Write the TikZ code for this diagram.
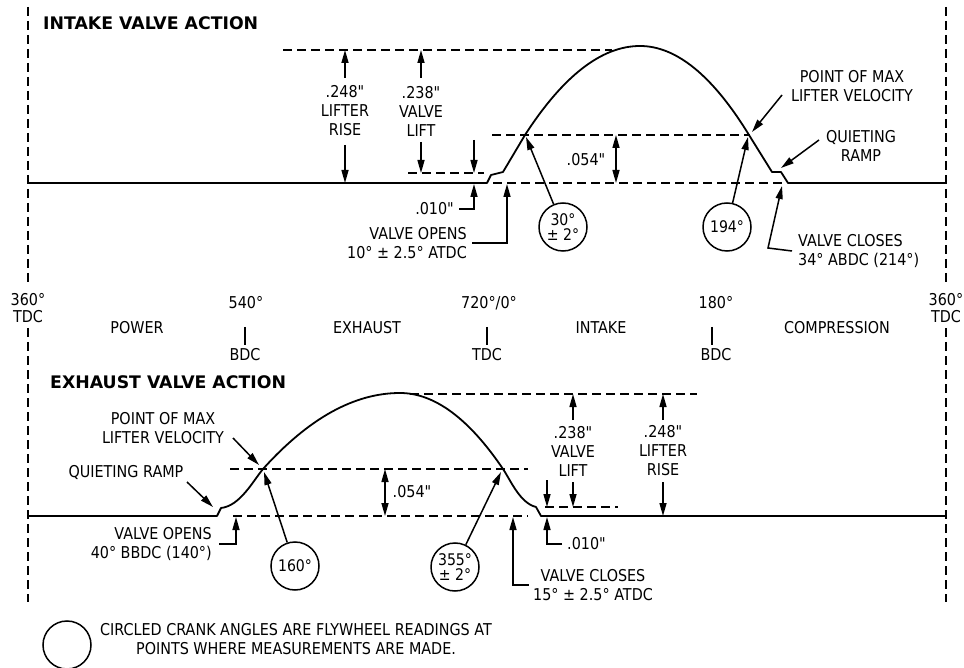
\documentclass[tikz,border=0pt]{standalone}
\usepackage{fontspec}
\setmainfont{DejaVu Sans}[FakeStretch=0.88, Ligatures=TeXOff]
\newfontfamily\ttlfont{DejaVu Sans}[Ligatures=TeXOff]
\usetikzlibrary{arrows.meta}
\begin{document}
\begin{tikzpicture}[x=1pt,y=-1pt,
  every node/.style={inner sep=0pt, font=\fontsize{16.3pt}{19pt}\selectfont},
  curve/.style={line width=1.8pt, line join=round},
  dsh/.style={line width=1.5pt, dash pattern=on 9pt off 5pt},
  arr/.style={line width=1.5pt, -{Triangle[length=13pt,width=7pt]}},
  darr/.style={line width=1.5pt, {Triangle[length=13pt,width=7pt]}-{Triangle[length=13pt,width=7pt]}},
  bar/.style={line width=1.5pt},
  lbl/.style={align=center},
  one/.style={text height=11.8pt, text depth=0pt},
  ttl/.style={font=\ttlfont\fontsize{17.3pt}{20pt}\selectfont\bfseries, anchor=west, text height=12.8pt, text depth=0pt},
  circ/.style={circle, draw, line width=1.5pt, minimum size=48pt, inner sep=0pt, align=center,
    font=\fontsize{16pt}{15pt}\selectfont}
]
\useasboundingbox (0,0) rectangle (964,668);
\fill[white] (0,0) rectangle (964,668);

% ---------- frame lines ----------
\coordinate (LA) at (28,7);   \coordinate (LB) at (28,285);
\coordinate (LC) at (28,328); \coordinate (LD) at (28,602);
\coordinate (RA) at (946,7);  \coordinate (RB) at (946,285);
\coordinate (RC) at (946,328);\coordinate (RD) at (946,602);
\draw[dsh] (LA) -- (LB);  \draw[dsh] (LC) -- (LD);
\draw[dsh] (RA) -- (RB);  \draw[dsh] (RC) -- (RD);

% ================= INTAKE =================
\node[ttl] (ititle) at (43,23) {INTAKE VALVE ACTION};

\draw[curve] (28,183) -- (487,183) -- (491,175) -- (503,172) -- (525,135)
  .. controls (563.3,75.7) and (601.7,46) .. (640,46)
  .. controls (676.3,46) and (712.7,75.7) .. (749,135)
  -- (772,172) -- (781,172) -- (788,183) -- (946,183);

\draw[dsh] (283,50) -- (612,50);
\draw[dsh] (408,173) -- (484,173);
\draw[dsh] (493,183) -- (782,183);
\draw[dsh] (492,135) -- (750,135);

% .248 lifter rise
\node[lbl] (i248) at (345,111) {.248"\\LIFTER\\RISE};
\coordinate (i248t) at (345,50); \coordinate (i248b) at (345,183);
\coordinate (i248s1) at (345,78); \coordinate (i248s2) at (345,145);
\draw[arr] (i248s1) -- (i248t);
\draw[arr] (i248s2) -- (i248b);
% .238 valve lift
\node[lbl] (i238) at (421,111) {.238"\\VALVE\\LIFT};
\coordinate (i238t) at (421,50); \coordinate (i238b) at (421,173);
\coordinate (i238s1) at (421,78); \coordinate (i238s2) at (421,142);
\draw[arr] (i238s1) -- (i238t);
\draw[arr] (i238s2) -- (i238b);
% .010
\coordinate (i010a) at (474,140); \coordinate (i010b) at (474,173);
\draw[arr] (i010a) -- (i010b);
\node[anchor=east, one] (i010) at (454,209) {.010"};
\coordinate (i010c) at (474,184);
\draw[arr] ([xshift=5pt]i010.east) -| (i010c);
% valve opens
\node[align=right, anchor=east] (iopen) at (467,243) {VALVE OPENS\\10° ± 2.5° ATDC};
\coordinate (iopent) at (507,184);
\draw[arr] ([xshift=5pt]iopen.east) -| (iopent);
% .054
\coordinate (i054a) at (616,135); \coordinate (i054b) at (616,183);
\draw[darr] (i054a) -- (i054b);
\node[one] (i054) at (586,160) {.054"};
% circles
\node[circ] (c30) at (563,227) {30°\\± 2°};
\coordinate (p30) at (526,137);
\draw[arr] (c30) -- (p30);
\node[circ] (c194) at (727,227) {194°};
\coordinate (p194) at (748,137);
\draw[arr] (c194) -- (p194);
% point of max lifter velocity
\node[lbl] (ipm) at (852,86) {POINT OF MAX\\LIFTER VELOCITY};
\coordinate (ipms) at (782,95); \coordinate (ipmt) at (752,132);
\draw[arr] (ipms) -- (ipmt);
% quieting ramp
\node[lbl] (iqr) at (861,146) {QUIETING\\RAMP};
\coordinate (iqrs) at (819,140); \coordinate (iqrt) at (781,168);
\draw[arr] (iqrs) -- (iqrt);
% valve closes
\node[align=left, anchor=west] (icl) at (798,251) {VALVE CLOSES\\34° ABDC (214°)};
\coordinate (icla) at (768,248); \coordinate (iclt) at (782,186);
\draw[arr] ([xshift=-6pt]icl.west) -- (icla) -- (iclt);

% ================= CYCLE LABELS =================
\node[one] (l360) at (28,300) {360°};
\node[one] (ltdc) at (28,317) {TDC};
\node[one] (r360) at (946,300) {360°};
\node[one] (rtdc) at (946,317) {TDC};
\node[one] (d540) at (246,303) {540°};
\node[one] (b540) at (245,355) {BDC};
\draw[bar] (245,327) -- (245,345);
\node[one] (d720) at (489,303) {720°/0°};
\node[one] (b720) at (487,355) {TDC};
\draw[bar] (487,327) -- (487,345);
\node[one] (d180) at (716,303) {180°};
\node[one] (b180) at (716,355) {BDC};
\draw[bar] (712,327) -- (712,345);
\node[one] (spow) at (137,328) {POWER};
\node[one] (sexh) at (367,328) {EXHAUST};
\node[one] (sint) at (601,328) {INTAKE};
\node[one] (scmp) at (837,328) {COMPRESSION};

% ================= EXHAUST =================
\node[ttl] (etitle) at (50,382) {EXHAUST VALVE ACTION};

\draw[curve] (28,516) -- (217,516) -- (221,508)
  .. controls (240,506) and (253,481) .. (263,469)
  .. controls (308.7,418.3) and (354.3,393) .. (400,393)
  .. controls (434.3,393) and (468.7,418.3) .. (503,469)
  .. controls (511,481) and (520,503) .. (536,507)
  -- (541,516) -- (946,516);

\draw[dsh] (410,394) -- (697,394);
\draw[dsh] (230,469) -- (528,469);
\draw[dsh] (233,516) -- (528,516);
\draw[dsh] (545,507) -- (618,507);

% point of max
\node[lbl] (epm) at (163,428) {POINT OF MAX\\LIFTER VELOCITY};
\coordinate (epms) at (233,438); \coordinate (epmt) at (259,465);
\draw[arr] (epms) -- (epmt);
% quieting ramp
\node[one] (eqr) at (126,472) {QUIETING RAMP};
\coordinate (eqrs) at (187,482); \coordinate (eqrt) at (213,507);
\draw[arr] (eqrs) -- (eqrt);
% valve opens
\node[align=right, anchor=east] (eopen) at (212,544) {VALVE OPENS\\40° BBDC (140°)};
\coordinate (eopent) at (236,517);
\draw[arr] ([xshift=7pt]eopen.east) -| (eopent);
% circles
\node[circ] (c160) at (295,566) {160°};
\coordinate (p160) at (264,472);
\draw[arr] (c160) -- (p160);
\node[circ] (c355) at (455,567) {355°\\± 2°};
\coordinate (p355) at (501,472);
\draw[arr] (c355) -- (p355);
% .054
\coordinate (e054a) at (385,469); \coordinate (e054b) at (385,516);
\draw[darr] (e054a) -- (e054b);
\node[one] (e054) at (412,492) {.054"};
% .238 valve lift
\node[lbl] (e238) at (573,451) {.238"\\VALVE\\LIFT};
\coordinate (e238t) at (573,394); \coordinate (e238b) at (573,507);
\coordinate (e238s1) at (573,420); \coordinate (e238s2) at (573,482);
\draw[arr] (e238s1) -- (e238t);
\draw[arr] (e238s2) -- (e238b);
% .248 lifter rise
\node[lbl] (e248) at (663,451) {.248"\\LIFTER\\RISE};
\coordinate (e248t) at (663,394); \coordinate (e248b) at (663,516);
\coordinate (e248s1) at (663,420); \coordinate (e248s2) at (663,482);
\draw[arr] (e248s1) -- (e248t);
\draw[arr] (e248s2) -- (e248b);
% .010
\coordinate (e010a) at (547,480); \coordinate (e010b) at (547,507);
\draw[arr] (e010a) -- (e010b);
\node[anchor=west, one] (e010) at (567,544) {.010"};
\coordinate (e010c) at (547,517);
\draw[arr] ([xshift=-5pt]e010.west) -| (e010c);
% valve closes
\node[lbl] (ecl) at (593,585) {VALVE CLOSES\\15° ± 2.5° ATDC};
\coordinate (eclt) at (513,517);
\draw[arr] ([xshift=-4pt]ecl.west) -| (eclt);

% ================= LEGEND =================
\node[circle, draw, line width=1.5pt, minimum size=48pt] (leg) at (67,645) {};
\node[lbl] (legt) at (296,639) {CIRCLED CRANK ANGLES ARE FLYWHEEL READINGS AT\\POINTS WHERE MEASUREMENTS ARE MADE.};
\end{tikzpicture}
\end{document}
